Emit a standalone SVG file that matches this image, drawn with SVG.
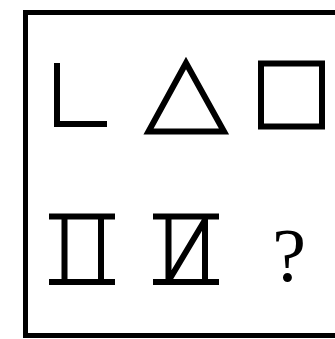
<svg xmlns="http://www.w3.org/2000/svg" width="335" height="339" viewBox="0 0 335 339">
<style>
.s{fill:none;stroke:#000;stroke-width:6;stroke-linecap:butt;stroke-linejoin:miter}
.f{fill:none;stroke:#000;stroke-width:5}
.q{font-family:"Liberation Serif",serif;font-size:76px;fill:#000}
</style>
<rect width="335" height="339" fill="#fff"/>
<g id="frame"><path class="f" d="M340 12.5 H25.5 V335.5 H340"/></g>
<g id="shape-L"><path class="s" d="M57 63 V124 H107"/></g>
<g id="shape-triangle"><path class="s" d="M186 63 L224 131.5 H148.5 Z"/></g>
<g id="shape-square"><rect class="s" x="261" y="63.5" width="61" height="63"/></g>
<g id="shape-pi"><path class="s" d="M49 216.5 H115 M49 282 H115 M64.5 216.5 V282 M101 216.5 V282"/></g>
<g id="shape-pi-diag"><path class="s" d="M153 216.5 H219 M153 282 H219 M168.5 216.5 V282 M205 216.5 V282 M168.5 281 L205 220"/></g>
<g id="question"><text class="q" x="289" y="281" text-anchor="middle">?</text></g>
</svg>
